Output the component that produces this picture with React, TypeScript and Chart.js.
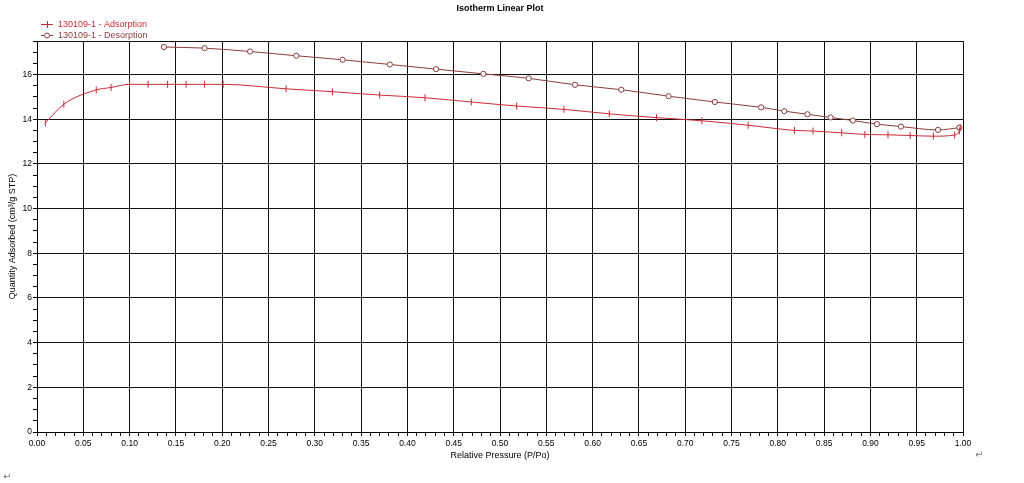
import React, { useEffect, useRef } from "react";
import { Chart, registerables } from "chart.js";

Chart.register(...registerables);

const chartTitle = "Isotherm Linear Plot";
const xAxisTitle = "Relative Pressure (P/Po)";
const yAxisTitle = "Quantity Adsorbed (cm³/g STP)";
const adsorptionLabel = "130109-1 - Adsorption";
const desorptionLabel = "130109-1 - Desorption";

const adsorptionX = [0.009, 0.029, 0.064, 0.080, 0.100, 0.120, 0.141, 0.161, 0.181, 0.201, 0.269, 0.319, 0.370, 0.419, 0.469, 0.518, 0.569, 0.618, 0.669, 0.718, 0.768, 0.818, 0.838, 0.869, 0.894, 0.919, 0.943, 0.968, 0.991, 0.996, 0.997];
const adsorptionY = [13.83, 14.67, 15.31, 15.42, 15.56, 15.56, 15.56, 15.56, 15.56, 15.56, 15.36, 15.23, 15.08, 14.96, 14.77, 14.59, 14.44, 14.24, 14.07, 13.93, 13.73, 13.50, 13.47, 13.39, 13.32, 13.30, 13.27, 13.24, 13.29, 13.47, 13.62];

const desorptionX = [0.137, 0.181, 0.230, 0.280, 0.330, 0.381, 0.431, 0.482, 0.531, 0.581, 0.631, 0.682, 0.732, 0.782, 0.807, 0.832, 0.857, 0.881, 0.907, 0.933, 0.973, 0.996];
const desorptionY = [17.23, 17.18, 17.03, 16.84, 16.66, 16.45, 16.24, 16.03, 15.83, 15.54, 15.32, 15.03, 14.77, 14.53, 14.36, 14.22, 14.08, 13.94, 13.78, 13.67, 13.52, 13.62];

const xMin = 0;
const xMax = 1;
const xMinorStep = 0.01;
const xMajorEvery = 5;
const yMin = 0;
const yMax = 17.5;
const yMinorStep = 0.5;
const yMajorEvery = 4;

const ADS_COLOR = "#cc2a36";
const DES_COLOR = "#8a3c3c";
const FONT = "'Liberation Sans', Arial, sans-serif";

const overlayPlugin = {
  id: "overlay",
  afterDraw(chart: any) {
    const ctx = chart.ctx;
    const area = chart.chartArea;
    ctx.save();
    // title
    ctx.fillStyle = "#000";
    ctx.font = `bold 9px ${FONT}`;
    ctx.textAlign = "center";
    ctx.textBaseline = "middle";
    ctx.fillText(chartTitle, (area.left + area.right) / 2, 9);
    // legend
    const rows = [24, 35];
    chart.data.datasets.forEach((ds: any, i: number) => {
      const y = rows[i];
      ctx.strokeStyle = ds.borderColor;
      ctx.lineWidth = 1;
      ctx.beginPath();
      ctx.moveTo(41, y + 0.5);
      ctx.lineTo(53, y + 0.5);
      ctx.stroke();
      const cx = 47;
      if (ds.pointStyle === "circle") {
        ctx.beginPath();
        ctx.arc(cx, y + 0.5, 2.5, 0, Math.PI * 2);
        ctx.fillStyle = "#fff";
        ctx.fill();
        ctx.stroke();
      } else {
        ctx.beginPath();
        ctx.moveTo(cx + 0.5, y - 3);
        ctx.lineTo(cx + 0.5, y + 4);
        ctx.stroke();
      }
      ctx.fillStyle = ds.borderColor;
      ctx.font = `9px ${FONT}`;
      ctx.textAlign = "left";
      ctx.textBaseline = "middle";
      ctx.fillText(ds.label, 58, y + 0.5);
    });
    ctx.restore();
  },
};

const isMajor = (value: number, step: number, every: number) =>
  Math.round(value / step) % every === 0;

export default function App() {
  const canvasRef = useRef<HTMLCanvasElement | null>(null);

  useEffect(() => {
    const canvas = canvasRef.current;
    if (!canvas) return;
    const chart = new Chart(canvas, {
      type: "line",
      data: {
        datasets: [
          {
            label: adsorptionLabel,
            data: adsorptionX.map((x, i) => ({ x, y: adsorptionY[i] })),
            borderColor: ADS_COLOR,
            backgroundColor: ADS_COLOR,
            borderWidth: 1,
            pointStyle: "line",
            rotation: 90,
            pointRadius: 3.5,
            pointBorderWidth: 1,
            cubicInterpolationMode: "monotone",
            fill: false,
          },
          {
            label: desorptionLabel,
            data: desorptionX.map((x, i) => ({ x, y: desorptionY[i] })),
            borderColor: DES_COLOR,
            backgroundColor: "#ffffff",
            borderWidth: 1,
            pointStyle: "circle",
            pointRadius: 2.6,
            pointBorderWidth: 1,
            cubicInterpolationMode: "monotone",
            fill: false,
          },
        ],
      } as any,
      options: {
        animation: false,
        responsive: false,
        events: [],
        layout: { padding: { left: 3, right: 61, top: 41, bottom: 18 } },
        plugins: {
          legend: { display: false },
          title: { display: false },
          tooltip: { enabled: false },
        },
        scales: {
          x: {
            type: "linear",
            min: xMin,
            max: xMax,
            afterFit: (scale: any) => {
              scale.height = 33;
            },
            afterBuildTicks: (scale: any) => {
              const ticks = [];
              const n = Math.round((xMax - xMin) / xMinorStep);
              for (let i = 0; i <= n; i++) ticks.push({ value: xMin + i * xMinorStep });
              scale.ticks = ticks;
            },
            ticks: {
              autoSkip: false,
              maxRotation: 0,
              padding: 3,
              color: "#000",
              font: { family: FONT, size: 8.5 },
              callback: (value: any) => {
                const v = Number(value);
                return isMajor(v, xMinorStep, xMajorEvery) ? v.toFixed(2) : "";
              },
            },
            grid: {
              color: (c: any) =>
                c.tick && isMajor(c.tick.value, xMinorStep, xMajorEvery) ? "#111" : "rgba(0,0,0,0)",
              tickColor: "#000",
              tickLength: 4,
              lineWidth: 1,
            },
            border: { color: "#000", width: 1 },
            title: {
              display: true,
              text: xAxisTitle,
              color: "#000",
              font: { family: FONT, size: 9 },
              padding: 4,
            },
          },
          y: {
            type: "linear",
            min: yMin,
            max: yMax,
            afterFit: (scale: any) => {
              scale.width = 34;
            },
            afterBuildTicks: (scale: any) => {
              const ticks = [];
              const n = Math.round((yMax - yMin) / yMinorStep);
              for (let i = 0; i <= n; i++) ticks.push({ value: yMin + i * yMinorStep });
              scale.ticks = ticks;
            },
            ticks: {
              autoSkip: false,
              padding: 1,
              color: "#000",
              font: { family: FONT, size: 8.5 },
              callback: (value: any) => {
                const v = Number(value);
                return isMajor(v, yMinorStep, yMajorEvery) ? String(Math.round(v)) : "";
              },
            },
            grid: {
              color: (c: any) =>
                c.tick && (isMajor(c.tick.value, yMinorStep, yMajorEvery) || Math.abs(c.tick.value - yMax) < 1e-9)
                  ? "#111"
                  : "rgba(0,0,0,0)",
              tickColor: "#000",
              tickLength: 4,
              lineWidth: 1,
            },
            border: { color: "#000", width: 1 },
            title: {
              display: true,
              text: yAxisTitle,
              color: "#000",
              font: { family: FONT, size: 9 },
              padding: 4,
            },
          },
        },
      } as any,
      plugins: [overlayPlugin],
    });
    return () => chart.destroy();
  }, []);

  return (
    <div
      style={{
        position: "fixed",
        left: 0,
        top: 0,
        width: 1024,
        height: 483,
        background: "#fff",
        overflow: "hidden",
      }}
    >
      <canvas ref={canvasRef} width={1024} height={483} style={{ display: "block" }} />
      <span
        style={{
          position: "absolute",
          left: 975,
          top: 449,
          fontSize: 10,
          color: "#777",
          fontFamily: "'DejaVu Sans', sans-serif",
        }}
      >
        ↵
      </span>
      <span
        style={{
          position: "absolute",
          left: 3,
          top: 471,
          fontSize: 10,
          color: "#777",
          fontFamily: "'DejaVu Sans', sans-serif",
        }}
      >
        ↵
      </span>
    </div>
  );
}
